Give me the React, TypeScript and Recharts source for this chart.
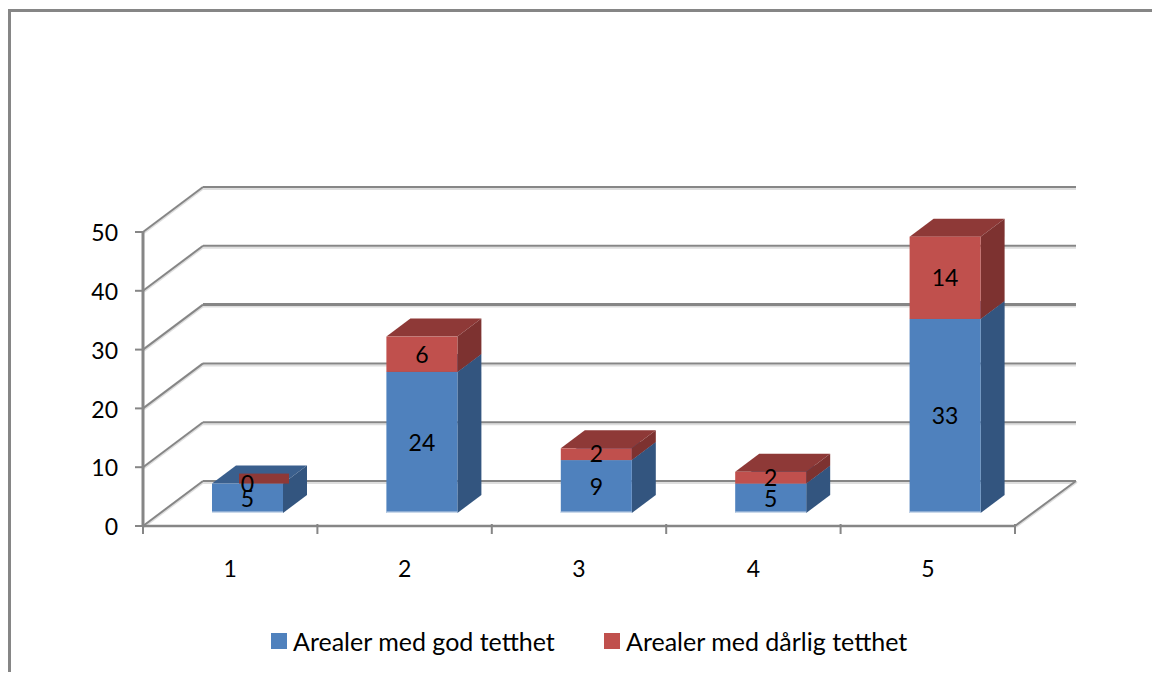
import { Bar, BarChart, CartesianGrid, LabelList, Legend, XAxis, YAxis } from "recharts";

const categories = ["1", "2", "3", "4", "5"];
const godTetthet = [5, 24, 9, 5, 33];
const darligTetthet = [0, 6, 2, 2, 14];
const yTicks = [0, 10, 20, 30, 40, 50];

const GOD_LABEL = "Arealer med god tetthet";
const DARLIG_LABEL = "Arealer med dårlig tetthet";

const data = categories.map((name, i) => ({
  name,
  god: godTetthet[i],
  darlig: darligTetthet[i],
}));

const FONT = "Lato, sans-serif";
const AXIS = "#868686";
const SHADOW = "#dedede";

// depth of the 3D box the plot sits in, and where the bars stand inside it
const WALL_DX = 60;
const WALL_DY = 45;
const BAR_DX = 17;
const BAR_DY = 13;
const BOX_DX = 24;
const BOX_DY = 18;

const BLUE = { front: "#4f81bd", side: "#33557f", top: "#3a5f8d" };
const RED = { front: "#c0504d", side: "#7d3230", top: "#8e3937" };

function GridLine(props: any) {
  const { x1, x2, y1 } = props;
  const back = y1 - WALL_DY;
  const left = x1 + WALL_DX;
  const right = x2 + WALL_DX + 1;
  const isFloor = y1 > 500;
  // the back line at 30 comes out heavier than the others
  const isHeavy = Math.abs(back - 305) < 2;
  return (
    <g>
      <line x1={x1 + 1} y1={y1 + 1} x2={left + 1} y2={back + 1} stroke={SHADOW} strokeWidth={2} />
      <line x1={x1} y1={y1} x2={left} y2={back} stroke={AXIS} strokeWidth={2} />
      <line x1={left} y1={back + 2} x2={right} y2={back + 2} stroke={SHADOW} strokeWidth={2} />
      <line x1={left} y1={back} x2={right} y2={back} stroke={AXIS} strokeWidth={isHeavy ? 3 : 2} />
      {isFloor && (
        <>
          <line x1={x2 + 1} y1={y1 + 1} x2={right + 1} y2={back + 1} stroke={SHADOW} strokeWidth={2} />
          <line x1={x2} y1={y1} x2={right} y2={back} stroke={AXIS} strokeWidth={2} />
        </>
      )}
    </g>
  );
}

function Box3D(props: any, colors: typeof BLUE, isBase: boolean) {
  const { x, y, width, height } = props;
  const left = x + BAR_DX;
  const top = y - BAR_DY;
  const right = left + width;
  const bottom = top + height;
  if (height < 0.5) {
    // an empty segment only shows as a dark patch on the box below it
    return <rect x={left + 27} y={top - 10} width={50} height={10} fill={colors.top} />;
  }
  return (
    <g>
      <polygon
        points={`${left},${top} ${left + BOX_DX},${top - BOX_DY} ${right + BOX_DX},${top - BOX_DY} ${right},${top}`}
        fill={colors.top}
      />
      <polygon
        points={`${right},${top} ${right + BOX_DX},${top - BOX_DY} ${right + BOX_DX},${bottom - BOX_DY} ${right},${bottom}`}
        fill={colors.side}
      />
      <rect x={left} y={top} width={width} height={height} fill={colors.front} />
      {isBase && <rect x={left} y={bottom - 1.5} width={width} height={1.5} fill="#c9d8ea" />}
    </g>
  );
}

function BarValue(props: any) {
  const { x, y, width, height, value } = props;
  return (
    <text
      x={x + BAR_DX + width / 2}
      y={y - BAR_DY + height / 2}
      dy="0.36em"
      textAnchor="middle"
      fontFamily={FONT}
      fontSize={23}
      fill="#000"
    >
      {value}
    </text>
  );
}

function CategoryTick(props: any) {
  const { x, y, width, visibleTicksCount, index, payload } = props;
  const band = width / visibleTicksCount;
  const start = x - band / 2;
  return (
    <g>
      <line x1={start} y1={y - 10} x2={start} y2={y} stroke={AXIS} strokeWidth={2} />
      {index === visibleTicksCount - 1 && (
        <line x1={start + band} y1={y - 10} x2={start + band} y2={y} stroke={AXIS} strokeWidth={2} />
      )}
      <text x={x} y={y + 35} dy="0.36em" textAnchor="middle" fontFamily={FONT} fontSize={23} fill="#000">
        {payload.value}
      </text>
    </g>
  );
}

function ChartLegend() {
  const item = (label: string, color: string, left: number) => (
    <div style={{ position: "absolute", left, top: 0, display: "flex", alignItems: "center", whiteSpace: "nowrap" }}>
      <span style={{ width: 16, height: 16, background: color, marginRight: 6 }} />
      <span style={{ fontFamily: FONT, fontSize: 25, color: "#000", lineHeight: "30px" }}>{label}</span>
    </div>
  );
  return (
    <div style={{ position: "relative", height: 30, width: 1152 }}>
      {item(GOD_LABEL, BLUE.front, 271)}
      {item(DARLIG_LABEL, RED.front, 604)}
    </div>
  );
}

export default function App() {
  return (
    <div style={{ position: "absolute", left: 0, top: 0, width: 1152, height: 674, overflow: "hidden", background: "#fff" }}>
      <div
        style={{
          position: "absolute",
          left: 8,
          top: 9,
          right: -4,
          bottom: 2,
          borderLeft: `3px solid ${AXIS}`,
          borderTop: `3px solid ${AXIS}`,
        }}
      />
      <BarChart
        width={1152}
        height={674}
        data={data}
        barSize={71}
        margin={{ top: 232, right: 137, left: 103, bottom: 82 }}
        style={{ position: "absolute", left: 0, top: 0 }}
      >
        <CartesianGrid vertical={false} horizontal={(p: any) => <GridLine key={p.index} {...p} />} />
        <XAxis
          dataKey="name"
          height={30}
          axisLine={{ stroke: AXIS, strokeWidth: 2.5 }}
          tickLine={false}
          interval={0}
          tick={<CategoryTick />}
        />
        <YAxis
          width={40}
          domain={[0, 50]}
          ticks={yTicks}
          axisLine={{ stroke: AXIS, strokeWidth: 3 }}
          tickLine={{ stroke: AXIS, strokeWidth: 2 }}
          tickSize={8}
          tickMargin={17}
          tick={{ fontFamily: FONT, fontSize: 23, fill: "#000", dy: 1 }}
        />
        <Bar
          dataKey="god"
          name={GOD_LABEL}
          stackId="a"
          isAnimationActive={false}
          shape={(p: any) => Box3D(p, BLUE, true)}
        >
          <LabelList dataKey="god" content={BarValue} />
        </Bar>
        <Bar
          dataKey="darlig"
          name={DARLIG_LABEL}
          stackId="a"
          isAnimationActive={false}
          shape={(p: any) => Box3D(p, RED, false)}
        >
          <LabelList dataKey="darlig" content={BarValue} />
        </Bar>
        <Legend
          verticalAlign="bottom"
          height={36}
          content={<ChartLegend />}
          wrapperStyle={{ left: 0, bottom: 12, width: 1152 }}
        />
      </BarChart>
    </div>
  );
}
